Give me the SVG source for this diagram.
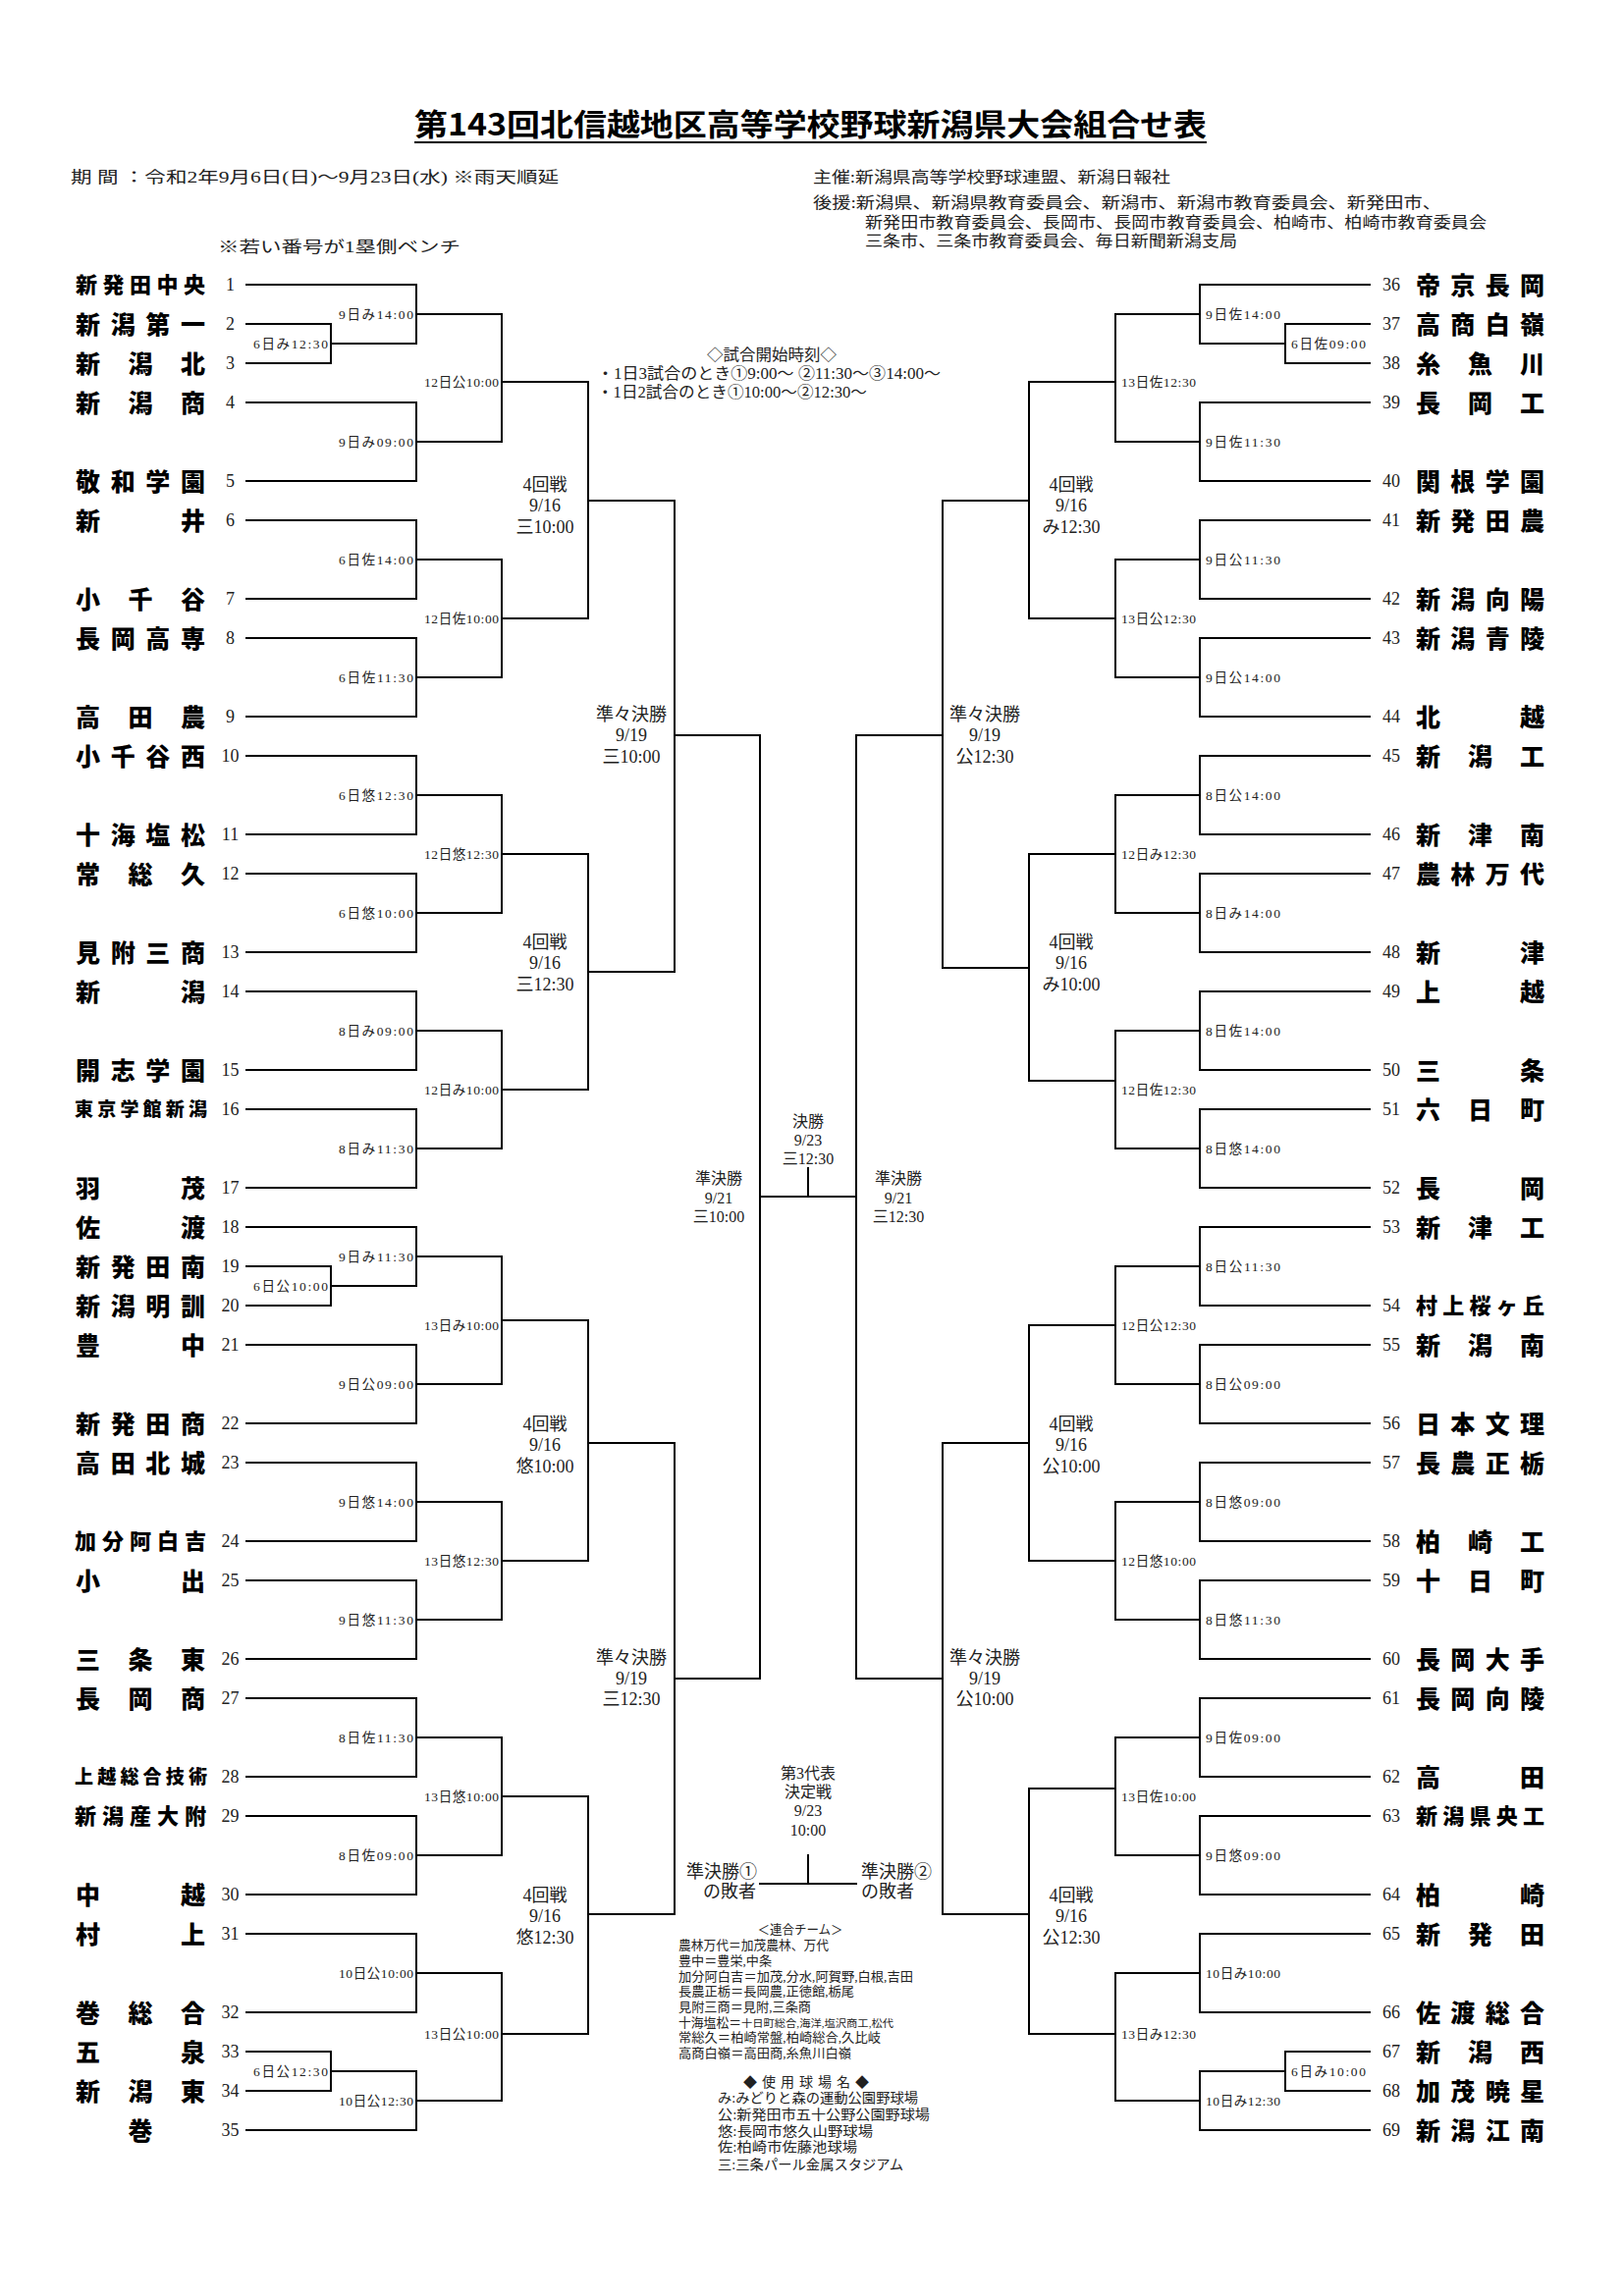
<svg xmlns="http://www.w3.org/2000/svg" width="1654" height="2339" viewBox="0 0 1654 2339">
<defs>
<style>
.ln{stroke:#000;stroke-width:2;fill:none;stroke-linecap:square}
.nm{font-family:"Noto Sans CJK JP",sans-serif;font-weight:900;font-size:25px;fill:#000}
.n5{font-size:22px}
.n6{font-size:19px}
.no{font-family:"Liberation Serif","Noto Sans CJK JP",serif;font-size:18px;text-anchor:middle;fill:#222}
.lb{font-family:"Liberation Serif","Noto Sans CJK JP",serif;font-size:13.5px;fill:#222}
.rd{font-family:"Liberation Serif","Noto Sans CJK JP",serif;font-size:18px;text-anchor:middle;fill:#222}
.sm{font-family:"Liberation Serif","Noto Sans CJK JP",serif;font-size:16px;text-anchor:middle;fill:#222}
.hd{font-family:"Liberation Serif","Noto Sans CJK JP",serif;font-size:16px;fill:#222}
.lg{font-family:"Liberation Serif","Noto Sans CJK JP",serif;font-size:13px;fill:#222}
.st{font-family:"Liberation Serif","Noto Sans CJK JP",serif;font-size:14px;fill:#222}
.ttl{font-family:"Noto Sans CJK JP",sans-serif;font-weight:700;font-size:31px;fill:#000}
</style>
</defs>
<rect width="1654" height="2339" fill="#fff"/>

<g id="header">
<text class="ttl" x="422" y="138" textLength="807" lengthAdjust="spacingAndGlyphs">第143回北信越地区高等学校野球新潟県大会組合せ表</text>
<line x1="422" y1="145" x2="1229" y2="145" stroke="#000" stroke-width="2"/>
<text class="hd" x="72" y="186" textLength="497" lengthAdjust="spacingAndGlyphs">期 間 ：令和2年9月6日(日)～9月23日(水) ※雨天順延</text>
<text class="hd" x="828" y="186" textLength="364" lengthAdjust="spacingAndGlyphs">主催:新潟県高等学校野球連盟、新潟日報社</text>
<text class="hd" x="828" y="212" textLength="640" lengthAdjust="spacingAndGlyphs">後援:新潟県、新潟県教育委員会、新潟市、新潟市教育委員会、新発田市、</text>
<text class="hd" x="881" y="232" textLength="633" lengthAdjust="spacingAndGlyphs">新発田市教育委員会、長岡市、長岡市教育委員会、柏崎市、柏崎市教育委員会</text>
<text class="hd" x="881" y="251" textLength="379" lengthAdjust="spacingAndGlyphs">三条市、三条市教育委員会、毎日新聞新潟支局</text>
<text class="hd" x="222" y="257" textLength="247" lengthAdjust="spacingAndGlyphs">※若い番号が1塁側ベンチ</text>
</g>

<g id="start-times">
<text class="sm" x="786" y="367" textLength="132" lengthAdjust="spacingAndGlyphs">◇試合開始時刻◇</text>
<text class="hd" x="608" y="386" textLength="350" lengthAdjust="spacingAndGlyphs">・1日3試合のとき①9:00～ ②11:30～③14:00～</text>
<text class="hd" x="608" y="405" textLength="275" lengthAdjust="spacingAndGlyphs">・1日2試合のとき①10:00～②12:30～</text>
</g>

<g id="connectors">
<path class="ln" d="M251 290H424M251 330H337M251 370H337M251 410H424M251 490H424M251 530H424M251 610H424M251 650H424M251 730H424M251 770H424M251 850H424M251 890H424M251 970H424M251 1010H424M251 1090H424M251 1130H424M251 1210H424M251 1250H424M251 1290H337M251 1330H337M251 1370H424M251 1450H424M251 1490H424M251 1570H424M251 1610H424M251 1690H424M251 1730H424M251 1810H424M251 1850H424M251 1930H424M251 1970H424M251 2050H424M251 2090H337M251 2130H337M251 2170H424"/>
<path class="ln" d="M337 330V370M337 350H424M424 290V350M424 320H511M424 410V490M424 450H511M511 320V450M511 389H599M424 530V610M424 570H511M424 650V730M424 690H511M511 570V690M511 630H599M599 389V630M599 510H687M424 770V850M424 810H511M424 890V970M424 930H511M511 810V930M511 870H599M424 1010V1090M424 1050H511M424 1130V1210M424 1170H511M511 1050V1170M511 1110H599M599 870V1110M599 990H687M687 510V990M687 749H774M337 1290V1330M337 1310H424M424 1250V1310M424 1280H511M424 1370V1450M424 1410H511M511 1280V1410M511 1345H599M424 1490V1570M424 1530H511M424 1610V1690M424 1650H511M511 1530V1650M511 1590H599M599 1345V1590M599 1470H687M424 1730V1810M424 1770H511M424 1850V1930M424 1890H511M511 1770V1890M511 1830H599M424 1970V2050M424 2010H511M337 2090V2130M337 2110H424M424 2110V2170M424 2140H511M511 2010V2140M511 2072H599M599 1830V2072M599 1950H687M687 1470V1950M687 1710H774M774 749V1710"/>
<path class="ln" d="M1395 290H1222M1395 330H1309M1395 370H1309M1395 410H1222M1395 490H1222M1395 530H1222M1395 610H1222M1395 650H1222M1395 730H1222M1395 770H1222M1395 850H1222M1395 890H1222M1395 970H1222M1395 1010H1222M1395 1090H1222M1395 1130H1222M1395 1210H1222M1395 1250H1222M1395 1330H1222M1395 1370H1222M1395 1450H1222M1395 1490H1222M1395 1570H1222M1395 1610H1222M1395 1690H1222M1395 1730H1222M1395 1810H1222M1395 1850H1222M1395 1930H1222M1395 1970H1222M1395 2050H1222M1395 2090H1309M1395 2130H1309M1395 2170H1222"/>
<path class="ln" d="M1309 330V370M1309 350H1222M1222 290V350M1222 320H1136M1222 410V490M1222 450H1136M1136 320V450M1136 389H1048M1222 530V610M1222 570H1136M1222 650V730M1222 690H1136M1136 570V690M1136 630H1048M1048 389V630M1048 510H960M1222 770V850M1222 810H1136M1222 890V970M1222 930H1136M1136 810V930M1136 870H1048M1222 1010V1090M1222 1050H1136M1222 1130V1210M1222 1170H1136M1136 1050V1170M1136 1101H1048M1048 870V1101M1048 986H960M960 510V986M960 749H872M1222 1250V1330M1222 1290H1136M1222 1370V1450M1222 1410H1136M1136 1290V1410M1136 1350H1048M1222 1490V1570M1222 1530H1136M1222 1610V1690M1222 1650H1136M1136 1530V1650M1136 1590H1048M1048 1350V1590M1048 1470H960M1222 1730V1810M1222 1770H1136M1222 1850V1930M1222 1890H1136M1136 1770V1890M1136 1822H1048M1222 1970V2050M1222 2010H1136M1309 2090V2130M1309 2110H1222M1222 2110V2170M1222 2140H1136M1136 2010V2140M1136 2072H1048M1048 1822V2072M1048 1950H960M960 1470V1950M960 1710H872M872 749V1710"/>
<path class="ln" d="M774 1219H872M823 1190V1219M774 1919H872M823 1890V1919"/>
</g>

<g id="teams-left">
<g id="t1"><text class="nm n5" x="77" y="298.4" textLength="132" lengthAdjust="spacing">新発田中央</text><text class="no" x="234.5" y="296">1</text></g>
<g id="t2"><text class="nm" x="77" y="339.5" textLength="132" lengthAdjust="spacing">新潟第一</text><text class="no" x="234.5" y="336">2</text></g>
<g id="t3"><text class="nm" x="77" y="379.5" textLength="132" lengthAdjust="spacing">新潟北</text><text class="no" x="234.5" y="376">3</text></g>
<g id="t4"><text class="nm" x="77" y="419.5" textLength="132" lengthAdjust="spacing">新潟商</text><text class="no" x="234.5" y="416">4</text></g>
<g id="t5"><text class="nm" x="77" y="499.5" textLength="132" lengthAdjust="spacing">敬和学園</text><text class="no" x="234.5" y="496">5</text></g>
<g id="t6"><text class="nm" x="77" y="539.5" textLength="132" lengthAdjust="spacing">新井</text><text class="no" x="234.5" y="536">6</text></g>
<g id="t7"><text class="nm" x="77" y="619.5" textLength="132" lengthAdjust="spacing">小千谷</text><text class="no" x="234.5" y="616">7</text></g>
<g id="t8"><text class="nm" x="77" y="659.5" textLength="132" lengthAdjust="spacing">長岡高専</text><text class="no" x="234.5" y="656">8</text></g>
<g id="t9"><text class="nm" x="77" y="739.5" textLength="132" lengthAdjust="spacing">高田農</text><text class="no" x="234.5" y="736">9</text></g>
<g id="t10"><text class="nm" x="77" y="779.5" textLength="132" lengthAdjust="spacing">小千谷西</text><text class="no" x="234.5" y="776">10</text></g>
<g id="t11"><text class="nm" x="77" y="859.5" textLength="132" lengthAdjust="spacing">十海塩松</text><text class="no" x="234.5" y="856">11</text></g>
<g id="t12"><text class="nm" x="77" y="899.5" textLength="132" lengthAdjust="spacing">常総久</text><text class="no" x="234.5" y="896">12</text></g>
<g id="t13"><text class="nm" x="77" y="979.5" textLength="132" lengthAdjust="spacing">見附三商</text><text class="no" x="234.5" y="976">13</text></g>
<g id="t14"><text class="nm" x="77" y="1019.5" textLength="132" lengthAdjust="spacing">新潟</text><text class="no" x="234.5" y="1016">14</text></g>
<g id="t15"><text class="nm" x="77" y="1099.5" textLength="132" lengthAdjust="spacing">開志学園</text><text class="no" x="234.5" y="1096">15</text></g>
<g id="t16"><text class="nm n6" x="76" y="1137.2" textLength="135" lengthAdjust="spacing">東京学館新潟</text><text class="no" x="234.5" y="1136">16</text></g>
<g id="t17"><text class="nm" x="77" y="1219.5" textLength="132" lengthAdjust="spacing">羽茂</text><text class="no" x="234.5" y="1216">17</text></g>
<g id="t18"><text class="nm" x="77" y="1259.5" textLength="132" lengthAdjust="spacing">佐渡</text><text class="no" x="234.5" y="1256">18</text></g>
<g id="t19"><text class="nm" x="77" y="1299.5" textLength="132" lengthAdjust="spacing">新発田南</text><text class="no" x="234.5" y="1296">19</text></g>
<g id="t20"><text class="nm" x="77" y="1339.5" textLength="132" lengthAdjust="spacing">新潟明訓</text><text class="no" x="234.5" y="1336">20</text></g>
<g id="t21"><text class="nm" x="77" y="1379.5" textLength="132" lengthAdjust="spacing">豊中</text><text class="no" x="234.5" y="1376">21</text></g>
<g id="t22"><text class="nm" x="77" y="1459.5" textLength="132" lengthAdjust="spacing">新発田商</text><text class="no" x="234.5" y="1456">22</text></g>
<g id="t23"><text class="nm" x="77" y="1499.5" textLength="132" lengthAdjust="spacing">高田北城</text><text class="no" x="234.5" y="1496">23</text></g>
<g id="t24"><text class="nm n5" x="76" y="1578.4" textLength="134" lengthAdjust="spacing">加分阿白吉</text><text class="no" x="234.5" y="1576">24</text></g>
<g id="t25"><text class="nm" x="77" y="1619.5" textLength="132" lengthAdjust="spacing">小出</text><text class="no" x="234.5" y="1616">25</text></g>
<g id="t26"><text class="nm" x="77" y="1699.5" textLength="132" lengthAdjust="spacing">三条東</text><text class="no" x="234.5" y="1696">26</text></g>
<g id="t27"><text class="nm" x="77" y="1739.5" textLength="132" lengthAdjust="spacing">長岡商</text><text class="no" x="234.5" y="1736">27</text></g>
<g id="t28"><text class="nm n6" x="76" y="1817.2" textLength="135" lengthAdjust="spacing">上越総合技術</text><text class="no" x="234.5" y="1816">28</text></g>
<g id="t29"><text class="nm n5" x="76" y="1858.4" textLength="134" lengthAdjust="spacing">新潟産大附</text><text class="no" x="234.5" y="1856">29</text></g>
<g id="t30"><text class="nm" x="77" y="1939.5" textLength="132" lengthAdjust="spacing">中越</text><text class="no" x="234.5" y="1936">30</text></g>
<g id="t31"><text class="nm" x="77" y="1979.5" textLength="132" lengthAdjust="spacing">村上</text><text class="no" x="234.5" y="1976">31</text></g>
<g id="t32"><text class="nm" x="77" y="2059.5" textLength="132" lengthAdjust="spacing">巻総合</text><text class="no" x="234.5" y="2056">32</text></g>
<g id="t33"><text class="nm" x="77" y="2099.5" textLength="132" lengthAdjust="spacing">五泉</text><text class="no" x="234.5" y="2096">33</text></g>
<g id="t34"><text class="nm" x="77" y="2139.5" textLength="132" lengthAdjust="spacing">新潟東</text><text class="no" x="234.5" y="2136">34</text></g>
<g id="t35"><text class="nm" x="143" y="2179.5" text-anchor="middle">巻</text><text class="no" x="234.5" y="2176">35</text></g>
</g>

<g id="teams-right">
<g id="t36"><text class="no" x="1417" y="296">36</text><text class="nm" x="1442" y="299.5" textLength="131" lengthAdjust="spacing">帝京長岡</text></g>
<g id="t37"><text class="no" x="1417" y="336">37</text><text class="nm" x="1442" y="339.5" textLength="131" lengthAdjust="spacing">高商白嶺</text></g>
<g id="t38"><text class="no" x="1417" y="376">38</text><text class="nm" x="1442" y="379.5" textLength="131" lengthAdjust="spacing">糸魚川</text></g>
<g id="t39"><text class="no" x="1417" y="416">39</text><text class="nm" x="1442" y="419.5" textLength="131" lengthAdjust="spacing">長岡工</text></g>
<g id="t40"><text class="no" x="1417" y="496">40</text><text class="nm" x="1442" y="499.5" textLength="131" lengthAdjust="spacing">関根学園</text></g>
<g id="t41"><text class="no" x="1417" y="536">41</text><text class="nm" x="1442" y="539.5" textLength="131" lengthAdjust="spacing">新発田農</text></g>
<g id="t42"><text class="no" x="1417" y="616">42</text><text class="nm" x="1442" y="619.5" textLength="131" lengthAdjust="spacing">新潟向陽</text></g>
<g id="t43"><text class="no" x="1417" y="656">43</text><text class="nm" x="1442" y="659.5" textLength="131" lengthAdjust="spacing">新潟青陵</text></g>
<g id="t44"><text class="no" x="1417" y="736">44</text><text class="nm" x="1442" y="739.5" textLength="131" lengthAdjust="spacing">北越</text></g>
<g id="t45"><text class="no" x="1417" y="776">45</text><text class="nm" x="1442" y="779.5" textLength="131" lengthAdjust="spacing">新潟工</text></g>
<g id="t46"><text class="no" x="1417" y="856">46</text><text class="nm" x="1442" y="859.5" textLength="131" lengthAdjust="spacing">新津南</text></g>
<g id="t47"><text class="no" x="1417" y="896">47</text><text class="nm" x="1442" y="899.5" textLength="131" lengthAdjust="spacing">農林万代</text></g>
<g id="t48"><text class="no" x="1417" y="976">48</text><text class="nm" x="1442" y="979.5" textLength="131" lengthAdjust="spacing">新津</text></g>
<g id="t49"><text class="no" x="1417" y="1016">49</text><text class="nm" x="1442" y="1019.5" textLength="131" lengthAdjust="spacing">上越</text></g>
<g id="t50"><text class="no" x="1417" y="1096">50</text><text class="nm" x="1442" y="1099.5" textLength="131" lengthAdjust="spacing">三条</text></g>
<g id="t51"><text class="no" x="1417" y="1136">51</text><text class="nm" x="1442" y="1139.5" textLength="131" lengthAdjust="spacing">六日町</text></g>
<g id="t52"><text class="no" x="1417" y="1216">52</text><text class="nm" x="1442" y="1219.5" textLength="131" lengthAdjust="spacing">長岡</text></g>
<g id="t53"><text class="no" x="1417" y="1256">53</text><text class="nm" x="1442" y="1259.5" textLength="131" lengthAdjust="spacing">新津工</text></g>
<g id="t54"><text class="no" x="1417" y="1336">54</text><text class="nm n5" x="1442" y="1338.4" textLength="131" lengthAdjust="spacing">村上桜ヶ丘</text></g>
<g id="t55"><text class="no" x="1417" y="1376">55</text><text class="nm" x="1442" y="1379.5" textLength="131" lengthAdjust="spacing">新潟南</text></g>
<g id="t56"><text class="no" x="1417" y="1456">56</text><text class="nm" x="1442" y="1459.5" textLength="131" lengthAdjust="spacing">日本文理</text></g>
<g id="t57"><text class="no" x="1417" y="1496">57</text><text class="nm" x="1442" y="1499.5" textLength="131" lengthAdjust="spacing">長農正栃</text></g>
<g id="t58"><text class="no" x="1417" y="1576">58</text><text class="nm" x="1442" y="1579.5" textLength="131" lengthAdjust="spacing">柏崎工</text></g>
<g id="t59"><text class="no" x="1417" y="1616">59</text><text class="nm" x="1442" y="1619.5" textLength="131" lengthAdjust="spacing">十日町</text></g>
<g id="t60"><text class="no" x="1417" y="1696">60</text><text class="nm" x="1442" y="1699.5" textLength="131" lengthAdjust="spacing">長岡大手</text></g>
<g id="t61"><text class="no" x="1417" y="1736">61</text><text class="nm" x="1442" y="1739.5" textLength="131" lengthAdjust="spacing">長岡向陵</text></g>
<g id="t62"><text class="no" x="1417" y="1816">62</text><text class="nm" x="1442" y="1819.5" textLength="131" lengthAdjust="spacing">高田</text></g>
<g id="t63"><text class="no" x="1417" y="1856">63</text><text class="nm n5" x="1442" y="1858.4" textLength="131" lengthAdjust="spacing">新潟県央工</text></g>
<g id="t64"><text class="no" x="1417" y="1936">64</text><text class="nm" x="1442" y="1939.5" textLength="131" lengthAdjust="spacing">柏崎</text></g>
<g id="t65"><text class="no" x="1417" y="1976">65</text><text class="nm" x="1442" y="1979.5" textLength="131" lengthAdjust="spacing">新発田</text></g>
<g id="t66"><text class="no" x="1417" y="2056">66</text><text class="nm" x="1442" y="2059.5" textLength="131" lengthAdjust="spacing">佐渡総合</text></g>
<g id="t67"><text class="no" x="1417" y="2096">67</text><text class="nm" x="1442" y="2099.5" textLength="131" lengthAdjust="spacing">新潟西</text></g>
<g id="t68"><text class="no" x="1417" y="2136">68</text><text class="nm" x="1442" y="2139.5" textLength="131" lengthAdjust="spacing">加茂暁星</text></g>
<g id="t69"><text class="no" x="1417" y="2176">69</text><text class="nm" x="1442" y="2179.5" textLength="131" lengthAdjust="spacing">新潟江南</text></g>
</g>

<g id="match-labels-left">
<text class="lb" x="258" y="354.7" textLength="76">6日み12:30</text>
<text class="lb" x="345" y="324.7" textLength="76">9日み14:00</text>
<text class="lb" x="345" y="454.7" textLength="76">9日み09:00</text>
<text class="lb" x="432" y="393.7" textLength="76">12日公10:00</text>
<text class="lb" x="345" y="574.7" textLength="76">6日佐14:00</text>
<text class="lb" x="345" y="694.7" textLength="76">6日佐11:30</text>
<text class="lb" x="432" y="634.7" textLength="76">12日佐10:00</text>
<text class="lb" x="345" y="814.7" textLength="76">6日悠12:30</text>
<text class="lb" x="345" y="934.7" textLength="76">6日悠10:00</text>
<text class="lb" x="432" y="874.7" textLength="76">12日悠12:30</text>
<text class="lb" x="345" y="1054.7" textLength="76">8日み09:00</text>
<text class="lb" x="345" y="1174.7" textLength="76">8日み11:30</text>
<text class="lb" x="432" y="1114.7" textLength="76">12日み10:00</text>
<text class="lb" x="258" y="1314.7" textLength="76">6日公10:00</text>
<text class="lb" x="345" y="1284.7" textLength="76">9日み11:30</text>
<text class="lb" x="345" y="1414.7" textLength="76">9日公09:00</text>
<text class="lb" x="432" y="1354.7" textLength="76">13日み10:00</text>
<text class="lb" x="345" y="1534.7" textLength="76">9日悠14:00</text>
<text class="lb" x="345" y="1654.7" textLength="76">9日悠11:30</text>
<text class="lb" x="432" y="1594.7" textLength="76">13日悠12:30</text>
<text class="lb" x="345" y="1774.7" textLength="76">8日佐11:30</text>
<text class="lb" x="345" y="1894.7" textLength="76">8日佐09:00</text>
<text class="lb" x="432" y="1834.7" textLength="76">13日悠10:00</text>
<text class="lb" x="345" y="2014.7" textLength="76">10日公10:00</text>
<text class="lb" x="258" y="2114.7" textLength="76">6日公12:30</text>
<text class="lb" x="345" y="2144.7" textLength="76">10日公12:30</text>
<text class="lb" x="432" y="2076.7" textLength="76">13日公10:00</text>
</g>

<g id="match-labels-right">
<text class="lb" x="1315" y="354.7" textLength="76">6日佐09:00</text>
<text class="lb" x="1228" y="324.7" textLength="76">9日佐14:00</text>
<text class="lb" x="1228" y="454.7" textLength="76">9日佐11:30</text>
<text class="lb" x="1142" y="393.7" textLength="76">13日佐12:30</text>
<text class="lb" x="1228" y="574.7" textLength="76">9日公11:30</text>
<text class="lb" x="1228" y="694.7" textLength="76">9日公14:00</text>
<text class="lb" x="1142" y="634.7" textLength="76">13日公12:30</text>
<text class="lb" x="1228" y="814.7" textLength="76">8日公14:00</text>
<text class="lb" x="1228" y="934.7" textLength="76">8日み14:00</text>
<text class="lb" x="1142" y="874.7" textLength="76">12日み12:30</text>
<text class="lb" x="1228" y="1054.7" textLength="76">8日佐14:00</text>
<text class="lb" x="1228" y="1174.7" textLength="76">8日悠14:00</text>
<text class="lb" x="1142" y="1114.7" textLength="76">12日佐12:30</text>
<text class="lb" x="1228" y="1294.7" textLength="76">8日公11:30</text>
<text class="lb" x="1228" y="1414.7" textLength="76">8日公09:00</text>
<text class="lb" x="1142" y="1354.7" textLength="76">12日公12:30</text>
<text class="lb" x="1228" y="1534.7" textLength="76">8日悠09:00</text>
<text class="lb" x="1228" y="1654.7" textLength="76">8日悠11:30</text>
<text class="lb" x="1142" y="1594.7" textLength="76">12日悠10:00</text>
<text class="lb" x="1228" y="1774.7" textLength="76">9日佐09:00</text>
<text class="lb" x="1228" y="1894.7" textLength="76">9日悠09:00</text>
<text class="lb" x="1142" y="1834.7" textLength="76">13日佐10:00</text>
<text class="lb" x="1228" y="2014.7" textLength="76">10日み10:00</text>
<text class="lb" x="1315" y="2114.7" textLength="76">6日み10:00</text>
<text class="lb" x="1228" y="2144.7" textLength="76">10日み12:30</text>
<text class="lb" x="1142" y="2076.7" textLength="76">13日み12:30</text>
</g>

<g id="round-labels">
<g id="r4-A"><text class="rd" x="555" y="499.8">4回戦</text><text class="rd" x="555" y="521.3">9/16</text><text class="rd" x="555" y="542.8">三10:00</text></g>
<g id="r4-B"><text class="rd" x="555" y="965.8">4回戦</text><text class="rd" x="555" y="987.3">9/16</text><text class="rd" x="555" y="1008.8">三12:30</text></g>
<g id="r4-C"><text class="rd" x="555" y="1456.8">4回戦</text><text class="rd" x="555" y="1478.3">9/16</text><text class="rd" x="555" y="1499.8">悠10:00</text></g>
<g id="r4-D"><text class="rd" x="555" y="1936.8">4回戦</text><text class="rd" x="555" y="1958.3">9/16</text><text class="rd" x="555" y="1979.8">悠12:30</text></g>
<g id="r4-E"><text class="rd" x="1091" y="499.8">4回戦</text><text class="rd" x="1091" y="521.3">9/16</text><text class="rd" x="1091" y="542.8">み12:30</text></g>
<g id="r4-F"><text class="rd" x="1091" y="965.8">4回戦</text><text class="rd" x="1091" y="987.3">9/16</text><text class="rd" x="1091" y="1008.8">み10:00</text></g>
<g id="r4-G"><text class="rd" x="1091" y="1456.8">4回戦</text><text class="rd" x="1091" y="1478.3">9/16</text><text class="rd" x="1091" y="1499.8">公10:00</text></g>
<g id="r4-H"><text class="rd" x="1091" y="1936.8">4回戦</text><text class="rd" x="1091" y="1958.3">9/16</text><text class="rd" x="1091" y="1979.8">公12:30</text></g>
<g id="qf-1"><text class="rd" x="643" y="734.3">準々決勝</text><text class="rd" x="643" y="755.3">9/19</text><text class="rd" x="643" y="776.8">三10:00</text></g>
<g id="qf-2"><text class="rd" x="643" y="1695.3">準々決勝</text><text class="rd" x="643" y="1716.3">9/19</text><text class="rd" x="643" y="1737.3">三12:30</text></g>
<g id="qf-3"><text class="rd" x="1003" y="734.3">準々決勝</text><text class="rd" x="1003" y="755.3">9/19</text><text class="rd" x="1003" y="776.8">公12:30</text></g>
<g id="qf-4"><text class="rd" x="1003" y="1695.3">準々決勝</text><text class="rd" x="1003" y="1716.3">9/19</text><text class="rd" x="1003" y="1737.3">公10:00</text></g>
<g id="sf-1"><text class="sm" x="732" y="1205.6">準決勝</text><text class="sm" x="732" y="1225.6">9/21</text><text class="sm" x="732" y="1244.9">三10:00</text></g>
<g id="sf-2"><text class="sm" x="915" y="1205.6">準決勝</text><text class="sm" x="915" y="1225.6">9/21</text><text class="sm" x="915" y="1244.9">三12:30</text></g>
<g id="final"><text class="sm" x="823" y="1147.6">決勝</text><text class="sm" x="823" y="1166.6">9/23</text><text class="sm" x="823" y="1185.6">三12:30</text></g>
<g id="third-place"><text class="sm" x="823" y="1811.6">第3代表</text><text class="sm" x="823" y="1830.6">決定戦</text><text class="sm" x="823" y="1849.6">9/23</text><text class="sm" x="823" y="1869.6">10:00</text></g>
<g id="loser-1"><text class="rd" x="771" y="1913.3" text-anchor="end" style="text-anchor:end">準決勝①</text><text class="rd" x="770" y="1933.3" style="text-anchor:end">の敗者</text></g>
<g id="loser-2"><text class="rd" x="877" y="1913.3" style="text-anchor:start">準決勝②</text><text class="rd" x="877" y="1933.3" style="text-anchor:start">の敗者</text></g>
</g>

<g id="legend-teams">
<text class="lg" x="815" y="1969.5" text-anchor="middle" textLength="87" lengthAdjust="spacingAndGlyphs">＜連合チーム＞</text>
<text class="lg" x="691" y="1986.2" textLength="153" lengthAdjust="spacingAndGlyphs">農林万代＝加茂農林、万代</text>
<text class="lg" x="691" y="2001.8" textLength="95" lengthAdjust="spacingAndGlyphs">豊中＝豊栄,中条</text>
<text class="lg" x="691" y="2017.5" textLength="239" lengthAdjust="spacingAndGlyphs">加分阿白吉＝加茂,分水,阿賀野,白根,吉田</text>
<text class="lg" x="691" y="2032.8" textLength="179" lengthAdjust="spacingAndGlyphs">長農正栃＝長岡農,正徳館,栃尾</text>
<text class="lg" x="691" y="2048.8" textLength="135" lengthAdjust="spacingAndGlyphs">見附三商＝見附,三条商</text>
<text class="lg" x="691" y="2064.5"><tspan textLength="64" lengthAdjust="spacingAndGlyphs">十海塩松＝</tspan><tspan style="font-size:10px" textLength="155" lengthAdjust="spacingAndGlyphs">十日町総合,海洋,塩沢商工,松代</tspan></text>
<text class="lg" x="691" y="2080.2" textLength="206" lengthAdjust="spacingAndGlyphs">常総久＝柏崎常盤,柏崎総合,久比岐</text>
<text class="lg" x="691" y="2095.5" textLength="176" lengthAdjust="spacingAndGlyphs">高商白嶺＝高田商,糸魚川白嶺</text>
</g>

<g id="legend-stadiums">
<text class="st" x="821" y="2125.6" text-anchor="middle" textLength="128" lengthAdjust="spacing">◆ 使 用 球 場 名 ◆</text>
<text class="st" x="731" y="2141.6" textLength="204" lengthAdjust="spacingAndGlyphs">み:みどりと森の運動公園野球場</text>
<text class="st" x="731" y="2158.9" textLength="216" lengthAdjust="spacingAndGlyphs">公:新発田市五十公野公園野球場</text>
<text class="st" x="731" y="2175.6" textLength="158" lengthAdjust="spacingAndGlyphs">悠:長岡市悠久山野球場</text>
<text class="st" x="731" y="2191.9" textLength="142" lengthAdjust="spacingAndGlyphs">佐:柏崎市佐藤池球場</text>
<text class="st" x="731" y="2209.9" textLength="189" lengthAdjust="spacingAndGlyphs">三:三条パール金属スタジアム</text>
</g>
</svg>
